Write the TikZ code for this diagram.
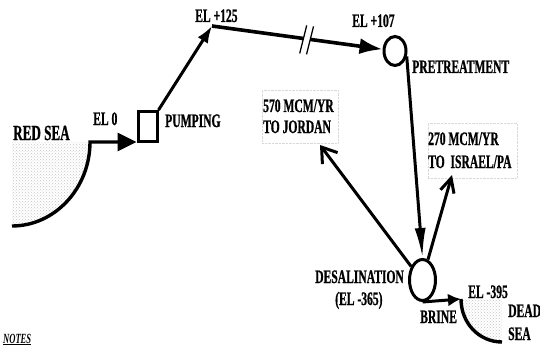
\documentclass[tikz,border=0pt]{standalone}
\usepackage{fontspec}
\setmainfont{Liberation Serif}[FakeStretch=0.61, BoldFeatures={FakeBold=0.8}]
\usetikzlibrary{arrows.meta,shapes.geometric,patterns,calc}
\begin{document}
\begin{tikzpicture}[x=1pt,y=-1pt,
  lbl/.style={inner sep=0pt, anchor=base west, font=\fontsize{19}{20}\selectfont\bfseries},
  flow/.style={line width=3pt},
  sea/.style={pattern=crosshatch dots, pattern color=gray!45},
  tbox/.style={draw=gray!30, densely dotted, line width=0.4pt, rectangle, inner sep=0pt}]
\useasboundingbox (0,0) rectangle (540,350);
% coordinates
\coordinate (rstop) at (90,142);
\coordinate (rsbot) at (12,226);
\coordinate (c125) at (212,26);
\coordinate (jtip) at (320,145);
\coordinate (itip) at (452,175);
\coordinate (btip) at (461,299);
\coordinate (dsbot) at (502,342);
% seas
\fill[sea] (12,142) -- (rstop) .. controls (90,188) and (55,226) .. (rsbot) -- cycle;
\fill[sea] (btip) -- (502,299) -- (dsbot) .. controls (479,342) and (461,323) .. (btip) -- cycle;
% nodes
\node[draw, flow, rectangle, minimum width=19pt, minimum height=30pt, inner sep=0pt] (pump) at (147.5,126.5) {};
\node[draw, flow, ellipse, minimum width=22pt, minimum height=29pt, inner sep=0pt] (pre) at (395,51) {};
\node[draw, flow, ellipse, minimum width=26pt, minimum height=41pt, inner sep=0pt] (desal) at (422.5,280) {};
\node[tbox, minimum width=76pt, minimum height=53pt] (jbox) at (300,116.5) {};
\node[tbox, minimum width=89pt, minimum height=55pt] (ibox) at (472.5,150.5) {};
% connectors
\draw[line width=3.4pt, -{Triangle[length=19pt,width=18pt]}] (rsbot) .. controls (55,226) and (90,188) .. (rstop) -- (rstop -| pump.west);
\draw[flow, -{Latex[length=17pt,width=12pt]}] (pump.north east) -- (c125);
\draw[line width=3.6pt, -{Latex[length=23pt,width=16pt]}] (c125) -- (pre);
\draw[white, line width=6pt] ($(c125)!0.535!(pre.west)$) -- ($(c125)!0.575!(pre.west)$);
\draw[line width=1.3pt] ($(c125)!0.535!(pre.west)+(-3.5,14)$) -- ++(7,-28);
\draw[line width=1.3pt] ($(c125)!0.575!(pre.west)+(-3.5,14)$) -- ++(7,-28);
\draw[flow, -{Latex[length=30pt,width=11pt]}] (pre.-25) -- (desal.north);
\draw[flow, -{Straight Barb[length=14pt,width=19pt]}] (desal.130) -- (jtip);
\draw[flow, -{Straight Barb[length=14pt,width=14pt]}] (desal.75) -- (itip);
\draw[flow, -{Latex[length=13pt,width=13pt]}] (desal.south) -- (btip);
\draw[line width=3.4pt] (btip) .. controls (461,323) and (479,342) .. (dsbot);
% labels
\node[lbl, font=\fontsize{21.5}{22}\selectfont\bfseries] (tRS) at (13,140) {RED SEA};
\node[lbl] (tEL0) at (93,125) {EL 0};
\node[lbl] (tPump) at (165,127) {PUMPING};
\node[lbl] (tEL125) at (195,22) {EL +125};
\node[lbl] (tEL107) at (352,27) {EL +107};
\node[lbl] (tPre) at (412,73) {PRETREATMENT};
\node[lbl] (tJ1) at (263,112) {570 MCM/YR};
\node[lbl] (tJ2) at (263,133) {TO JORDAN};
\node[lbl] (tI1) at (428,145) {270 MCM/YR};
\node[lbl] (tI2) at (428,168) {TO\ \ ISRAEL/PA};
\node[lbl] (tDes) at (315,283) {DESALINATION};
\node[lbl] (tDesEl) at (335,305) {(EL -365)};
\node[lbl] (tBrine) at (420,323) {BRINE};
\node[lbl] (tEL395) at (468,298) {EL -395};
\node[lbl] (tDead) at (508,317) {DEAD};
\node[lbl] (tSea) at (508,340) {SEA};
\node[lbl, font=\fontsize{14}{14}\selectfont\bfseries\itshape] (tNotes) at (3,343) {\underline{NOTES}};
\end{tikzpicture}
\end{document}
